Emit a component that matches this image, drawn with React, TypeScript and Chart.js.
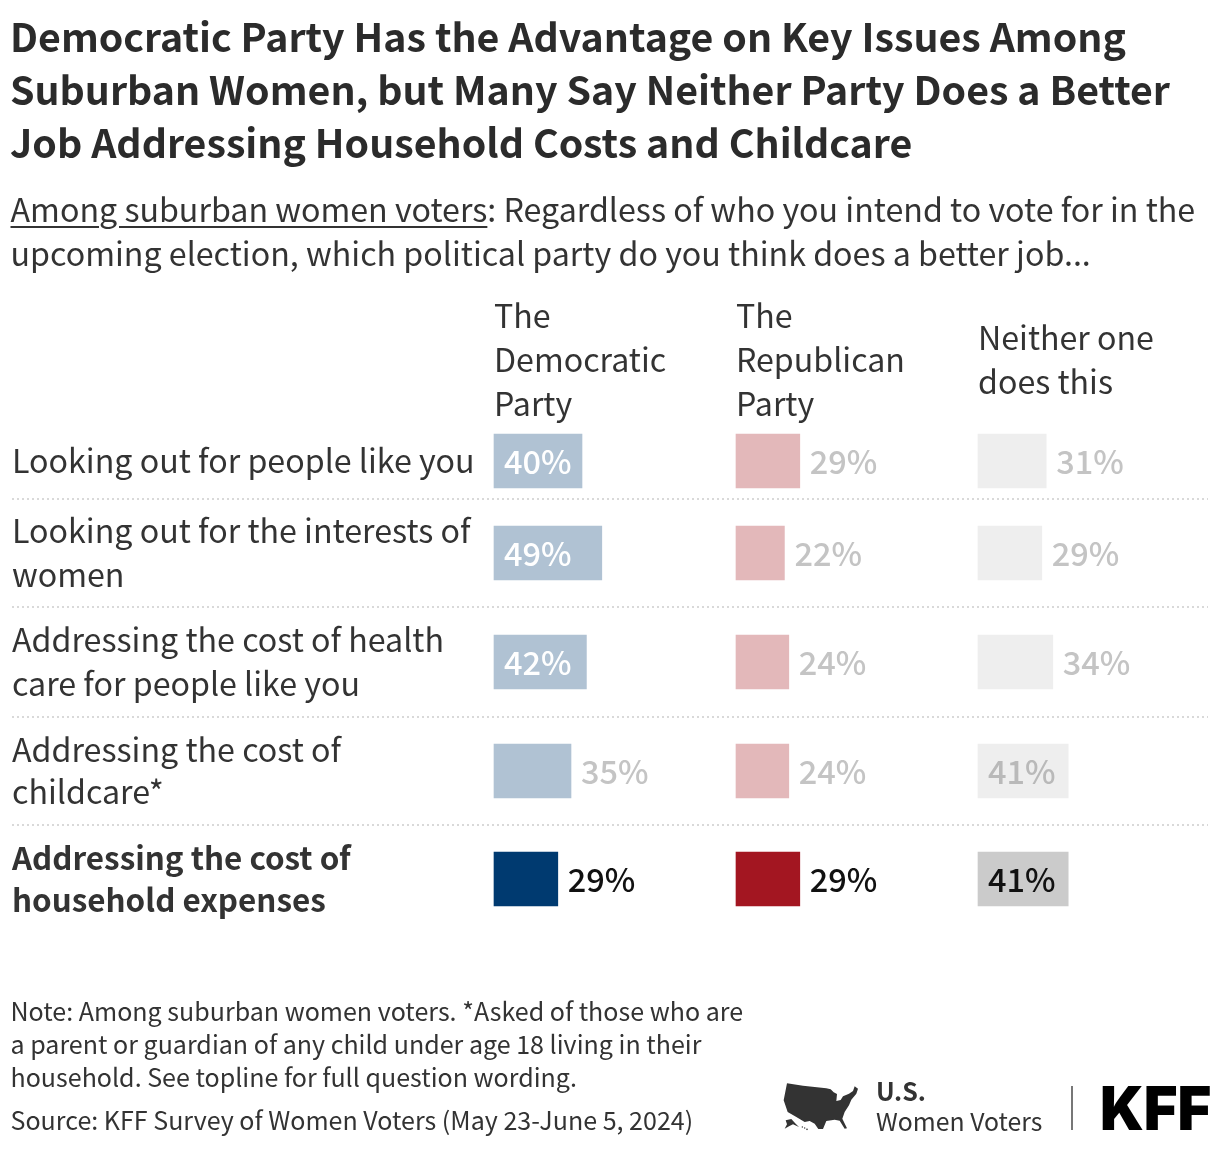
import React, { useEffect, useRef } from "react";
import { Chart, registerables } from "chart.js";

Chart.register(...registerables);

const FONT = '"Noto Sans CJK JP", "Noto Sans", sans-serif';

const titleLines = [
  "Democratic Party Has the Advantage on Key Issues Among",
  "Suburban Women, but Many Say Neither Party Does a Better",
  "Job Addressing Household Costs and Childcare",
];
const noteLines = [
  "Note: Among suburban women voters. *Asked of those who are",
  "a parent or guardian of any child under age 18 living in their",
  "household. See topline for full question wording.",
];
const sourceLine = "Source: KFF Survey of Women Voters (May 23-June 5, 2024)";

const rowLabels = [
  ["Looking out for people like you"],
  ["Looking out for the interests of", "women"],
  ["Addressing the cost of health", "care for people like you"],
  ["Addressing the cost of", "childcare*"],
  ["Addressing the cost of", "household expenses"],
];
const columnHeaders = [
  ["The", "Democratic", "Party"],
  ["The", "Republican", "Party"],
  ["Neither one", "does this"],
];
const democraticValues = [40, 49, 42, 35, 29];
const republicanValues = [29, 22, 24, 24, 29];
const neitherValues = [31, 29, 34, 41, 41];
const highlightedRow = 4;

const rowHeights = [76, 108, 110, 108, 108];
const pxPerPct = 2.2;
const columnLefts = [494, 736, 978];
const plotLeft = 12;
const plotRight = 1208;
const plotTop = 423;
const plotBottom = plotTop + rowHeights.reduce((a, b) => a + b, 0);

const rowEdges = rowHeights.reduce<number[]>((acc, h) => [...acc, acc[acc.length - 1] + h], [0]);
const rowCenters = rowHeights.map((h, i) => rowEdges[i] + h / 2);

const seriesStyles = [
  { id: "x1", label: "The Democratic Party", values: democraticValues, strong: "#003a70", faded: "#b0c2d3" },
  { id: "x2", label: "The Republican Party", values: republicanValues, strong: "#a31621", faded: "#e3b8ba" },
  { id: "x3", label: "Neither one does this", values: neitherValues, strong: "#cbcbcb", faded: "#eeeeee" },
];

const xScale = (left: number) => {
  const min = (plotLeft - left) / pxPerPct;
  return { type: "linear" as const, display: false, min, max: min + (plotRight - plotLeft) / pxPerPct };
};

const flatten = (scale: any) => {
  scale.width = 0;
  scale.paddingTop = 0;
  scale.paddingBottom = 0;
  scale.paddingLeft = 0;
  scale.paddingRight = 0;
};

const valueLabels = {
  id: "valueLabels",
  afterDatasetsDraw(chart: any) {
    const ctx = chart.ctx;
    ctx.save();
    ctx.font = `500 32.5px ${FONT}`;
    ctx.textBaseline = "middle";
    ctx.textAlign = "left";
    chart.data.datasets.forEach((ds: any, di: number) => {
      chart.getDatasetMeta(di).data.forEach((bar: any, i: number) => {
        const text = `${ds.data[i].x}%`;
        const barLeft = bar.base;
        const w = ctx.measureText(text).width;
        const inside = bar.x - barLeft >= w + 16;
        const hi = i === highlightedRow;
        ctx.fillStyle = hi ? "#111111" : inside ? (di === 0 ? "#ffffff" : "#b9b9b9") : "#c4c4c4";
        ctx.fillText(text, inside ? barLeft + 10 : bar.x + 10, bar.y + 1);
      });
    });
    ctx.restore();
  },
};

const abs = (left: number, top: number, extra: React.CSSProperties = {}): React.CSSProperties => ({
  position: "absolute",
  left,
  top,
  whiteSpace: "nowrap",
  ...extra,
});

export default function App() {
  const ref = useRef<HTMLCanvasElement>(null);

  useEffect(() => {
    const chart = new Chart(ref.current as HTMLCanvasElement, {
      type: "bar",
      data: {
        datasets: seriesStyles.map((s) => ({
          label: s.label,
          xAxisID: s.id,
          yAxisID: "y",
          data: s.values.map((v, i) => ({ x: v, y: rowCenters[i] })),
          backgroundColor: s.values.map((_, i) => (i === highlightedRow ? s.strong : s.faded)),
          barThickness: 54,
          grouped: false,
          borderWidth: 0,
        })),
      } as any,
      options: {
        indexAxis: "y",
        responsive: false,
        animation: false,
        layout: {
          padding: {
            left: plotLeft,
            right: 1220 - plotRight,
            top: plotTop,
            bottom: 1150 - plotBottom,
          },
        },
        plugins: { legend: { display: false }, tooltip: { enabled: false } },
        scales: {
          x1: xScale(columnLefts[0]),
          x2: xScale(columnLefts[1]),
          x3: xScale(columnLefts[2]),
          y: {
            type: "linear",
            position: "left",
            reverse: true,
            offset: false,
            min: 0,
            max: rowEdges[rowEdges.length - 1],
            afterBuildTicks: (scale: any) => {
              scale.ticks = rowCenters.map((value) => ({ value }));
            },
            afterFit: flatten,
            grid: { display: false, drawTicks: false, offset: false },
            border: { display: false },
            ticks: {
              mirror: true,
              padding: 0,
              autoSkip: false,
              color: "#333333",
              font: (c: any) => ({
                family: FONT,
                size: c.index === highlightedRow ? 31.4 : 32.2,
                weight: c.index === highlightedRow ? "bold" : "normal",
                lineHeight: c.index >= 3 ? 42 / 32 : 44 / 32.2,
              }),
              callback: (_v: any, i: number) => rowLabels[i],
            },
          },
          yGrid: {
            type: "linear",
            position: "left",
            reverse: true,
            offset: false,
            min: 0,
            max: rowEdges[rowEdges.length - 1],
            afterBuildTicks: (scale: any) => {
              scale.ticks = rowEdges.slice(1, -1).map((value) => ({ value }));
            },
            afterFit: flatten,
            grid: { color: "#d9d9d9", lineWidth: 2, drawTicks: false, offset: false },
            border: { display: false, dash: [2, 3] },
            ticks: { display: false },
          },
        },
      } as any,
      plugins: [valueLabels],
    });
    return () => chart.destroy();
  }, []);

  return (
    <div style={{ position: "absolute", left: 0, top: 0, width: 1220, height: 1150, overflow: "hidden", background: "#fff", fontFamily: FONT, color: "#333" }}>
      <canvas ref={ref} width={1220} height={1150} style={{ position: "absolute", left: 0, top: 0, display: "block" }} />
      {titleLines.map((t, i) => (
        <div key={t} style={abs(10, 8 + i * 53, { fontSize: 39.3, fontWeight: 700, lineHeight: "53px", color: "#2b2b2b" })}>{t}</div>
      ))}
      <div style={abs(10.5, 186, { fontSize: 32.2, lineHeight: "44px" })}>
        <span style={{ textDecoration: "underline", textDecorationThickness: 2, textUnderlineOffset: 4 }}>Among suburban women voters</span>
        : Regardless of who you intend to vote for in the
      </div>
      <div style={abs(10.5, 230, { fontSize: 32.2, lineHeight: "44px" })}>
        upcoming election, which political party do you think does a better job...
      </div>
      {columnHeaders.map((lines, c) =>
        lines.map((t, i) => (
          <div key={t + c} style={abs(columnLefts[c], (lines.length === 3 ? 292 : 314) + i * 44, { fontSize: 32.15, lineHeight: "44px" })}>{t}</div>
        ))
      )}
      {noteLines.map((t, i) => (
        <div key={t} style={abs(10.5, 993.5 + i * 33, { fontSize: 25.04, lineHeight: "33px" })}>{t}</div>
      ))}
      <div style={abs(10.5, 1103, { fontSize: 25.04, lineHeight: "33px" })}>{sourceLine}</div>

      <svg width={76} height={50} viewBox="70 66 228 148" style={{ position: "absolute", left: 783, top: 1082 }}>
        <path fill="#333" d="M82 69 L130 76 L200 84 L213 87 L222 96 L232 101 L230 122 L243 119 L250 108 L268 100 L280 92 L285 78 L295 85 L290 100 L275 118 L268 135 L255 155 L248 175 L262 204 L255 205 L240 181 L225 178 L200 182 L190 206 L176 206 L165 190 L150 182 L135 185 L110 170 L84 155 L72 120 Z" />
        <path fill="#333" d="M78 180 L95 176 L108 190 L118 200 L100 192 L88 198 L75 205 L82 192 Z" />
        <circle cx="128" cy="200" r="2" fill="#333" /><circle cx="135" cy="203" r="2" fill="#333" /><circle cx="142" cy="207" r="2.5" fill="#333" />
      </svg>
      <div style={abs(876, 1074, { fontSize: 25, lineHeight: "32px", fontWeight: 700 })}>U.S.</div>
      <div style={abs(876, 1104, { fontSize: 24.8, lineHeight: "32px" })}>Women Voters</div>
      <div style={{ position: "absolute", left: 1071, top: 1086, width: 2, height: 44, background: "#777" }} />
      <div style={abs(1100, 1072, { fontFamily: '"Inter", sans-serif', fontSize: 61, lineHeight: "72px", fontWeight: 900, color: "#000", transform: "scaleX(0.947)", transformOrigin: "left center" })}>KFF</div>
    </div>
  );
}
